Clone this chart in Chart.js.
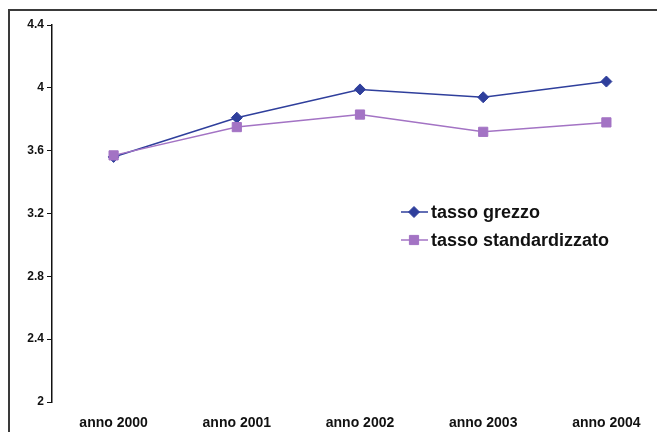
<!DOCTYPE html>
<html>
<head>
<meta charset="utf-8">
<script src="https://cdn.jsdelivr.net/npm/chart.js@4"></script>
<style>
  html, body { margin: 0; padding: 0; background: #ffffff; overflow: hidden; }
  body { width: 657px; height: 432px; position: relative; }
  #frame {
    position: absolute; left: 8px; top: 9px; width: 700px; height: 450px;
    border-left: 2px solid #3a3a3a; border-top: 2px solid #3a3a3a;
  }
  #wrap { position: absolute; left: 0; top: 0; width: 680px; height: 432px; }
</style>
</head>
<body>
<div id="frame"></div>
<div id="wrap"><canvas id="c"></canvas></div>
<script>
// Categories, series and axis ticks
const categories = ['anno 2000', 'anno 2001', 'anno 2002', 'anno 2003', 'anno 2004'];
const seriesNames = ['tasso grezzo', 'tasso standardizzato'];
const tassoGrezzo = [3.56, 3.81, 3.99, 3.94, 4.04];
const tassoStandardizzato = [3.57, 3.75, 3.83, 3.72, 3.78];
const yTicks = [2, 2.4, 2.8, 3.2, 3.6, 4, 4.4];

const colGrezzo = '#2f3f9c';
const colStd = '#a373c4';

// Legend drawn inside the plot area, line sample + marker + label
const insideLegend = {
  id: 'insideLegend',
  afterDraw(chart) {
    const ctx = chart.ctx;
    const rowsY = [212, 240];
    ctx.save();
    chart.data.datasets.forEach((ds, i) => {
      const y = rowsY[i];
      ctx.strokeStyle = ds.borderColor;
      ctx.lineWidth = 1.5;
      ctx.beginPath();
      ctx.moveTo(401, y);
      ctx.lineTo(428, y);
      ctx.stroke();
      ctx.fillStyle = ds.borderColor;
      ctx.lineWidth = 1;
      Chart.helpers.drawPoint(ctx, {
        pointStyle: ds.pointStyle,
        radius: ds.pointRadius,
        borderWidth: 1
      }, 414, y);
      ctx.fillStyle = '#111111';
      ctx.font = 'bold 18px "Liberation Sans", Arial, sans-serif';
      ctx.textBaseline = 'middle';
      ctx.textAlign = 'left';
      ctx.fillText(ds.label, 431, y + 1);
    });
    ctx.restore();
  }
};

new Chart(document.getElementById('c'), {
  type: 'line',
  data: {
    labels: categories,
    datasets: [
      {
        label: seriesNames[0],
        data: tassoGrezzo,
        order: 1,
        borderColor: colGrezzo,
        backgroundColor: colGrezzo,
        borderWidth: 1.5,
        pointStyle: 'rectRot',
        pointRadius: 5.5,
        pointHoverRadius: 5.5,
        pointBorderWidth: 1,
        tension: 0
      },
      {
        label: seriesNames[1],
        data: tassoStandardizzato,
        order: 0,
        borderColor: colStd,
        backgroundColor: colStd,
        borderWidth: 1.5,
        pointStyle: 'rect',
        pointRadius: 6.5,
        pointHoverRadius: 6.5,
        pointBorderWidth: 1,
        tension: 0
      }
    ]
  },
  options: {
    responsive: true,
    maintainAspectRatio: false,
    animation: false,
    devicePixelRatio: 1,
    layout: { padding: { left: 0, right: 12, top: 25, bottom: 0 } },
    plugins: {
      legend: { display: false },
      tooltip: { enabled: false }
    },
    scales: {
      x: {
        type: 'category',
        offset: true,
        grid: { display: false, drawTicks: false },
        border: { display: false },
        ticks: {
          color: '#111111',
          padding: 13,
          maxRotation: 0,
          font: { family: '"Liberation Sans", Arial, sans-serif', size: 14, weight: 'bold' }
        },
        afterFit(scale) { scale.height = 30; }
      },
      y: {
        min: 2,
        max: 4.4,
        afterBuildTicks(scale) { scale.ticks = yTicks.map(v => ({ value: v })); },
        grid: {
          display: true,
          drawOnChartArea: false,
          drawTicks: true,
          tickLength: 5,
          color: '#111111',
          lineWidth: 1
        },
        border: { display: true, color: '#111111', width: 1.5 },
        ticks: {
          color: '#111111',
          padding: 3,
          callback: v => String(Number(v.toFixed(1))),
          font: { family: '"Liberation Sans", Arial, sans-serif', size: 12, weight: 'bold' }
        },
        afterFit(scale) { scale.width = 52; }
      }
    }
  },
  plugins: [insideLegend]
});
</script>
</body>
</html>
